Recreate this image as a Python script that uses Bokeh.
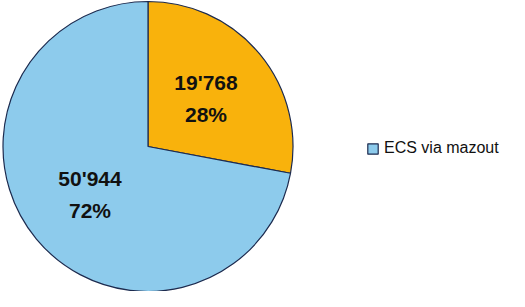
import math
from bokeh.plotting import figure
from bokeh.models import ColumnDataSource, Legend, LegendItem, Range1d
from bokeh.core.properties import value
from bokeh.embed import file_html
from bokeh.resources import INLINE

categories = ["Autre", "ECS via mazout"]
values = [19768, 50944]
value_labels = ["19'768", "50'944"]
colors = ["#f9b20c", "#8dcbec"]

W, H = 509, 291
cx, cy, R = 147.5, 145.0, 145.0

total = sum(values)
starts, ends, lx, ly, texts = [], [], [], [], []
cum = 0.0
for v, lab in zip(values, value_labels):
    frac = v / total
    a_end = math.pi / 2 - cum * 2 * math.pi
    a_start = math.pi / 2 - (cum + frac) * 2 * math.pi
    starts.append(a_start)
    ends.append(a_end)
    mid = (a_start + a_end) / 2
    lx.append(cx + 0.52 * R * math.cos(mid))
    ly.append(cy + 0.52 * R * math.sin(mid))
    texts.append(f"{lab}\n{round(frac * 100)}%")
    cum += frac

p = figure(width=W, height=H, output_backend="svg", toolbar_location=None,
           x_range=Range1d(0, W), y_range=Range1d(0, H), min_border=0)
p.axis.visible = False
p.grid.visible = False
p.outline_line_color = None
p.background_fill_color = "white"
p.border_fill_color = "white"

renderers = []
for i in range(len(values)):
    src = ColumnDataSource(dict(x=[cx], y=[cy], s=[starts[i]], e=[ends[i]]))
    r = p.wedge(x="x", y="y", radius=R, start_angle="s", end_angle="e",
                fill_color=colors[i], line_color="#1d2b4f", line_width=1.2,
                source=src)
    renderers.append(r)

tsrc = ColumnDataSource(dict(x=lx, y=ly, t=texts))
p.text(x="x", y="y", text="t", source=tsrc, text_align="center",
       text_baseline="middle", text_font=value("Liberation Sans"),
       text_font_style="bold", text_font_size="21px", text_color="#111111",
       text_line_height=1.4)

legend = Legend(items=[LegendItem(label=categories[1], renderers=[renderers[1]])],
                location=(366, 134), padding=0, margin=0, spacing=0,
                glyph_width=13, glyph_height=13, label_height=13,
                label_standoff=5, label_text_font="Liberation Sans",
                label_text_font_size="16px", label_text_color="#111111",
                border_line_color=None, background_fill_alpha=0)
p.add_layout(legend, "center")

open("out.html", "w").write(file_html(p, INLINE))
